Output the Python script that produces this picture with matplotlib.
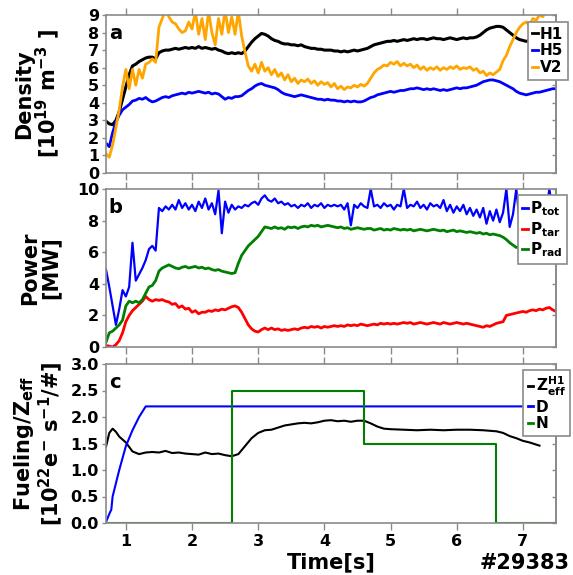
import numpy as np
import matplotlib
matplotlib.use("Agg")
import matplotlib.pyplot as plt

plt.rcParams['font.family'] = ['DejaVu Sans']
plt.rcParams['font.weight'] = 'bold'
plt.rcParams['mathtext.default'] = 'bf'

# ---------------- data (sampled every 0.05 s from 0.70 s to 7.50 s) ----------------
h1 = [2.95, 2.8, 2.75, 3.0, 3.5, 4.2, 4.9, 5.6, 6.1, 6.2,
      6.35, 6.45, 6.55, 6.6, 6.6, 6.5, 6.85, 6.95, 7.0, 7.0,
      7.05, 7.1, 7.05, 7.1, 7.15, 7.1, 7.15, 7.1, 7.2, 7.1,
      7.15, 7.1, 7.05, 7.1, 7.0, 6.95, 6.85, 6.8, 6.85, 6.8,
      6.85, 6.8, 6.95, 7.2, 7.45, 7.65, 7.8, 7.95, 7.9, 7.8,
      7.65, 7.55, 7.5, 7.4, 7.35, 7.35, 7.3, 7.3, 7.25, 7.3,
      7.2, 7.15, 7.1, 7.1, 7.05, 7.05, 7.0, 7.0, 7.0, 6.95,
      6.95, 6.9, 6.95, 6.9, 6.95, 7.0, 6.95, 7.0, 7.05, 7.1,
      7.2, 7.3, 7.35, 7.4, 7.45, 7.5, 7.5, 7.55, 7.5, 7.55,
      7.6, 7.55, 7.6, 7.65, 7.6, 7.65, 7.65, 7.6, 7.65, 7.7,
      7.65, 7.65, 7.6, 7.65, 7.7, 7.65, 7.6, 7.65, 7.7, 7.65,
      7.7, 7.7, 7.75, 7.85, 8.0, 8.15, 8.25, 8.3, 8.35, 8.35,
      8.3, 8.15, 8.0, 7.85, 7.7, 7.6, 7.55, 7.5, 7.55, 7.6,
      7.65, 7.7, 7.75, 7.75, 7.8, 7.8, 7.8]
h5 = [1.7, 1.5, 2.3, 2.9, 3.3, 3.6, 3.75, 3.9, 4.1, 4.15,
      4.25, 4.2, 4.3, 4.15, 4.05, 4.1, 4.2, 4.3, 4.35, 4.3,
      4.4, 4.45, 4.5, 4.55, 4.5, 4.6, 4.55, 4.6, 4.65, 4.6,
      4.55, 4.6, 4.5, 4.55, 4.5, 4.35, 4.2, 4.3, 4.25, 4.35,
      4.35, 4.4, 4.55, 4.7, 4.8, 4.95, 5.05, 5.1, 5.0, 4.95,
      4.9, 4.85, 4.75, 4.6, 4.5, 4.45, 4.4, 4.35, 4.4, 4.45,
      4.4, 4.35, 4.3, 4.25, 4.2, 4.2, 4.15, 4.2, 4.15, 4.15,
      4.1, 4.1, 4.05, 4.1, 4.05, 4.1, 4.05, 4.05, 4.1, 4.2,
      4.3, 4.35, 4.45, 4.5, 4.55, 4.6, 4.65, 4.6, 4.65, 4.7,
      4.7, 4.75, 4.8, 4.8, 4.85, 4.8, 4.75, 4.8, 4.75, 4.8,
      4.75, 4.7, 4.75, 4.7, 4.75, 4.8, 4.85, 4.8, 4.85, 4.85,
      4.9, 4.95, 5.0, 5.1, 5.2, 5.25, 5.3, 5.3, 5.25, 5.2,
      5.1, 5.0, 4.9, 4.8, 4.65, 4.55, 4.5, 4.45, 4.5, 4.55,
      4.6, 4.6, 4.65, 4.7, 4.75, 4.8, 4.8]
v2 = [1.1, 0.9, 1.6, 2.6, 3.6, 4.9, 5.9, 4.8, 5.9, 5.0,
      5.9, 5.4, 6.2, 6.3, 6.5, 6.3, 8.3, 8.8, 9.3, 8.9,
      8.6, 8.5, 8.2, 8.0, 8.1, 8.6, 8.2, 9.2, 7.9, 8.8,
      7.6, 9.2, 8.0, 7.3, 8.8, 7.9, 9.3, 8.0, 8.9, 7.9,
      9.2, 7.8, 6.9, 6.1, 5.8, 6.2, 5.7, 6.3, 5.8, 6.0,
      5.6, 5.9, 5.5, 5.7, 5.3, 5.6, 5.2, 5.4, 5.1, 5.3,
      5.2, 5.35, 5.1, 5.25, 5.0, 5.2, 5.05, 5.15, 4.9, 5.1,
      4.8, 4.95, 4.75, 4.9, 4.85, 5.0, 4.9, 5.05, 4.95, 5.1,
      5.4, 5.7, 5.9, 6.0, 6.15, 6.1, 6.3, 6.2, 6.35, 6.1,
      6.25, 6.1, 6.2, 6.0, 6.15, 5.9, 6.05, 5.85, 6.0, 5.9,
      6.05, 5.85, 6.0, 5.9, 6.05, 5.95, 6.1, 5.9, 6.0, 5.95,
      6.05, 5.85, 5.95, 5.7, 5.8, 5.55, 5.7, 5.6, 5.75, 5.9,
      6.4, 6.7, 7.2, 7.6, 8.0, 8.3, 8.5, 8.6, 8.4, 8.8,
      8.7, 9.0, 8.9, 9.2, 9.1, 9.4, 9.5]

p_tot = [4.9, 3.8, 2.6, 1.4, 2.4, 3.6, 3.2, 3.8, 6.6, 4.2,
         4.6, 5.0, 5.5, 6.2, 6.4, 6.1, 8.8, 8.6, 8.9, 8.7,
         9.0, 8.7, 9.3, 8.8, 9.1, 8.7, 9.0, 8.6, 9.2, 8.8,
         9.4, 8.7, 9.1, 8.4, 9.9, 7.2, 9.2, 8.5, 9.0, 8.7,
         8.9, 8.8, 9.0, 8.9, 9.1, 9.2, 9.0, 9.4, 9.6, 9.3,
         9.2, 9.4, 9.1, 9.2, 9.0, 9.1, 8.9, 9.0, 8.8, 9.0,
         8.9, 9.1, 8.8, 9.0, 8.9, 9.1, 8.8, 9.0, 8.9, 9.0,
         8.9, 9.0, 8.7, 9.1, 7.7, 9.0, 8.8, 9.1, 8.9, 8.8,
         10.0, 8.9, 9.0, 8.8, 9.1, 8.9, 9.0, 8.7, 9.0, 8.9,
         10.0, 8.8, 9.0, 8.9, 9.2, 8.8, 9.0, 8.7, 9.1, 8.9,
         9.0, 8.8, 9.3, 8.6, 9.0, 8.5, 8.9, 8.6, 9.0, 8.4,
         8.8, 8.3, 8.7, 8.2, 8.8, 7.8, 8.6, 8.0, 8.7, 7.9,
         8.5, 10.0, 7.6, 8.4, 10.0, 8.0, 8.6, 8.2, 8.8, 8.3,
         8.7, 8.4, 8.9, 8.5, 10.0, 8.6, 8.8]
p_tar = [0.1, 0.05, 0.0, 0.15, 0.4, 0.9, 1.6, 2.0, 2.3, 2.5,
         2.7, 2.9, 3.2, 3.0, 2.9, 3.0, 2.95, 3.0, 2.9, 2.85,
         2.7, 2.75, 2.5, 2.6, 2.4, 2.45, 2.2, 2.3, 2.1, 2.2,
         2.2, 2.3, 2.25, 2.35, 2.3, 2.4, 2.35, 2.45, 2.55, 2.6,
         2.5, 2.2, 1.8, 1.4, 1.15, 1.0, 0.95, 1.1, 1.2, 1.1,
         1.2, 1.1, 1.15, 1.05, 1.1, 1.05, 1.1, 1.15, 1.1, 1.2,
         1.25, 1.2, 1.3, 1.25, 1.3, 1.2, 1.3, 1.25, 1.3, 1.35,
         1.3, 1.35, 1.3, 1.4, 1.35, 1.4, 1.35, 1.45, 1.4, 1.35,
         1.4, 1.45, 1.4, 1.5, 1.45, 1.5, 1.45, 1.5, 1.45, 1.5,
         1.55, 1.5, 1.55, 1.45, 1.5, 1.55, 1.5, 1.45, 1.5, 1.55,
         1.5, 1.45, 1.55, 1.5, 1.45, 1.5, 1.55, 1.5, 1.45, 1.5,
         1.45, 1.4, 1.35, 1.3, 1.25, 1.35, 1.3, 1.4, 1.5, 1.55,
         1.6, 2.0, 2.05, 2.1, 2.15, 2.2, 2.25, 2.2, 2.3, 2.35,
         2.3, 2.4, 2.35, 2.45, 2.5, 2.35, 2.25]
p_rad = [0.3, 0.9, 1.0, 1.2, 1.4, 1.7, 2.6, 2.9, 2.8, 2.9,
         2.8, 3.0, 3.4, 3.8, 3.9, 4.2, 4.8, 5.0, 5.1, 5.2,
         5.1, 5.0, 4.95, 5.05, 5.1, 5.0, 5.05, 5.1, 5.0, 5.05,
         4.95, 5.0, 4.9, 4.85, 4.9, 4.8, 4.75, 4.7, 4.65, 4.7,
         5.3, 5.8, 6.1, 6.4, 6.6, 6.8, 7.0, 7.3, 7.6, 7.55,
         7.5, 7.6, 7.5, 7.55, 7.45, 7.6, 7.55, 7.6, 7.5, 7.6,
         7.65, 7.6, 7.7, 7.65, 7.7, 7.6, 7.65, 7.7, 7.65, 7.6,
         7.55, 7.6, 7.5, 7.55, 7.45, 7.5, 7.55, 7.5, 7.45, 7.5,
         7.5, 7.4, 7.45, 7.5, 7.4, 7.45, 7.4, 7.5, 7.45, 7.4,
         7.45, 7.4, 7.45, 7.35, 7.4, 7.45, 7.4, 7.35, 7.4, 7.45,
         7.4, 7.35, 7.4, 7.3, 7.35, 7.4, 7.3, 7.35, 7.3, 7.25,
         7.3, 7.25, 7.2, 7.25, 7.15, 7.2, 7.1, 7.15, 7.1, 7.05,
         6.95, 6.8, 6.6, 6.45, 6.3, 6.35, 6.4, 6.5, 6.45, 6.5,
         6.45, 6.5, 6.55, 6.5, 6.45, 6.5, 6.5]

zeff_h1 = [(0.70, 1.44), (0.75, 1.70), (0.80, 1.78), (0.85, 1.72), (0.90, 1.63),
           (1.00, 1.52), (1.10, 1.35), (1.20, 1.30), (1.30, 1.33), (1.40, 1.34),
           (1.50, 1.33), (1.60, 1.36), (1.70, 1.32), (1.80, 1.33), (1.90, 1.31),
           (2.00, 1.30), (2.10, 1.29), (2.20, 1.33), (2.30, 1.30), (2.40, 1.31),
           (2.50, 1.28), (2.60, 1.26), (2.70, 1.30), (2.80, 1.45), (2.90, 1.60),
           (3.00, 1.70), (3.10, 1.75), (3.20, 1.76), (3.30, 1.80), (3.40, 1.84),
           (3.50, 1.86), (3.60, 1.88), (3.70, 1.89), (3.80, 1.88), (3.90, 1.90),
           (4.00, 1.93), (4.10, 1.94), (4.20, 1.92), (4.30, 1.93), (4.40, 1.91),
           (4.50, 1.93), (4.60, 1.93), (4.70, 1.88), (4.80, 1.82), (4.90, 1.78),
           (5.00, 1.77), (5.20, 1.76), (5.40, 1.75), (5.60, 1.76), (5.80, 1.75),
           (6.00, 1.76), (6.20, 1.76), (6.40, 1.75), (6.60, 1.73), (6.70, 1.70),
           (6.80, 1.64), (6.90, 1.60), (7.00, 1.55), (7.10, 1.52), (7.20, 1.48),
           (7.25, 1.46)]
fuel_d = [(0.70, 0.02), (0.76, 0.20), (0.78, 0.25), (0.80, 0.50), (0.90, 1.00),
          (1.00, 1.45), (1.10, 1.75), (1.20, 2.00), (1.30, 2.20), (7.50, 2.20)]
fuel_n = [(0.70, 0.0), (2.60, 0.0), (2.60, 2.5), (4.60, 2.5), (4.60, 1.5),
          (6.60, 1.5), (6.60, 0.0), (7.50, 0.0)]

T0, T1 = 0.70, 7.50


def grid(vals):
    return np.linspace(T0, T1, len(vals))


# ---------------- figure ----------------
fig = plt.figure(figsize=(5.73, 5.75), dpi=100)
L, W = 106 / 573, 450 / 573
ax_a = fig.add_axes([L, 1 - 173 / 575, W, 158 / 575])
ax_b = fig.add_axes([L, 1 - 347 / 575, W, 158 / 575])
ax_c = fig.add_axes([L, 1 - 523 / 575, W, 159 / 575])

GRAY = '#8a8a8a'
TICKFS = 11.5
LABFS = 15

for ax in (ax_a, ax_b, ax_c):
    ax.set_xlim(T0, T1)
    ax.set_xticks([1, 2, 3, 4, 5, 6, 7])
    for s in ax.spines.values():
        s.set_color(GRAY)
        s.set_linewidth(1.2)
    ax.tick_params(axis='x', which='both', direction='out', top=True, bottom=True,
                   length=5, width=1, color=GRAY, labelsize=TICKFS, pad=3)
    ax.tick_params(axis='y', which='both', left=True, right=False, direction='out',
                   length=3, width=1, color=GRAY, labelsize=TICKFS, pad=2)


def right_in(ax, ticks):
    r = ax.secondary_yaxis('right')
    r.set_yticks(ticks)
    r.tick_params(direction='in', length=3, width=1, color=GRAY, labelright=False)
    r.spines['right'].set_color(GRAY)
    r.spines['right'].set_linewidth(1.2)
    return r


# panel a
ax_a.plot(grid(h1), h1, color='black', lw=2.2, label='H1')
ax_a.plot(grid(h5), h5, color='blue', lw=2.0, label='H5')
ax_a.plot(grid(v2), v2, color='orange', lw=2.0, label='V2')
ax_a.set_ylim(0, 9)
ax_a.set_yticks(range(0, 10))
ax_a.tick_params(axis='x', labelbottom=False)
right_in(ax_a, range(0, 10))

# panel b
ax_b.plot(grid(p_tot), p_tot, color='blue', lw=1.6, label=r'$\mathbf{P_{tot}}$')
ax_b.plot(grid(p_tar), p_tar, color='red', lw=2.0, label=r'$\mathbf{P_{tar}}$')
ax_b.plot(grid(p_rad), p_rad, color='green', lw=2.0, label=r'$\mathbf{P_{rad}}$')
ax_b.set_ylim(0, 10)
ax_b.set_yticks(range(0, 11, 2))
ax_b.tick_params(axis='x', labelbottom=False)
right_in(ax_b, range(0, 11, 2))

# panel c
zt, zv = zip(*zeff_h1)
dt, dv = zip(*fuel_d)
nt, nv = zip(*fuel_n)
ax_c.plot(zt, zv, color='black', lw=1.5, label=r'$\mathbf{Z_{eff}^{H1}}$')
ax_c.plot(dt, dv, color='blue', lw=1.5, label='D')
ax_c.plot(nt, nv, color='green', lw=1.5, label='N')
ax_c.set_ylim(0, 3.0)
cticks = np.arange(0, 3.01, 0.5)
ax_c.set_yticks(cticks)
ax_c.set_yticklabels([f'{v:.1f}' for v in cticks])
right_in(ax_c, cticks)
ax_c.set_xlabel('Time[s]', fontsize=LABFS, fontweight='bold', labelpad=2)

for ax in (ax_a, ax_b, ax_c):
    for lab in ax.get_xticklabels() + ax.get_yticklabels():
        lab.set_fontweight('bold')

# y labels
ax_a.set_ylabel('Density\n' + r'[10$^{19}$ m$^{-3}$ ]', fontsize=LABFS, fontweight='bold',
                linespacing=1.0)
ax_b.set_ylabel('Power\n[MW]', fontsize=LABFS, fontweight='bold', linespacing=1.0)
ax_c.set_ylabel(r'Fueling/Z$_{eff}$' + '\n' + r'[10$^{22}$e$^{-}$ s$^{-1}$/#]',
                fontsize=LABFS, fontweight='bold', linespacing=1.0)
ax_a.yaxis.set_label_coords(-0.097, 0.5)
ax_b.yaxis.set_label_coords(-0.102, 0.5)
ax_c.yaxis.set_label_coords(-0.092, 0.5)

# panel letters
for ax, letter in ((ax_a, 'a'), (ax_b, 'b'), (ax_c, 'c')):
    ax.text(0.006, 0.85, letter, transform=ax.transAxes, fontsize=14,
            fontweight='bold', va='baseline', ha='left')

# legends
leg_kw = dict(loc='upper right', handlelength=0.35, handletextpad=0.15,
              borderpad=0.3, labelspacing=0.12, borderaxespad=0.0, fancybox=False,
              framealpha=1.0, edgecolor=GRAY, prop={'weight': 'bold', 'size': 11})
la = ax_a.legend(bbox_to_anchor=(568 / 573, 1 - 22 / 575),
                 bbox_transform=fig.transFigure, **leg_kw)
lb = ax_b.legend(bbox_to_anchor=(567 / 573, 1 - 195 / 575),
                 bbox_transform=fig.transFigure, **leg_kw)
lc = ax_c.legend(bbox_to_anchor=(570 / 573, 1 - 370 / 575),
                 bbox_transform=fig.transFigure, **leg_kw)
for lg in (la, lb, lc):
    lg.get_frame().set_linewidth(1.2)
    for ln in lg.get_lines():
        ln.set_linewidth(2.0)

fig.text(570 / 573, 1 - 569 / 575, '#29383', fontsize=LABFS, fontweight='bold',
         ha='right', va='baseline')

fig.savefig('out.png', dpi=100)
